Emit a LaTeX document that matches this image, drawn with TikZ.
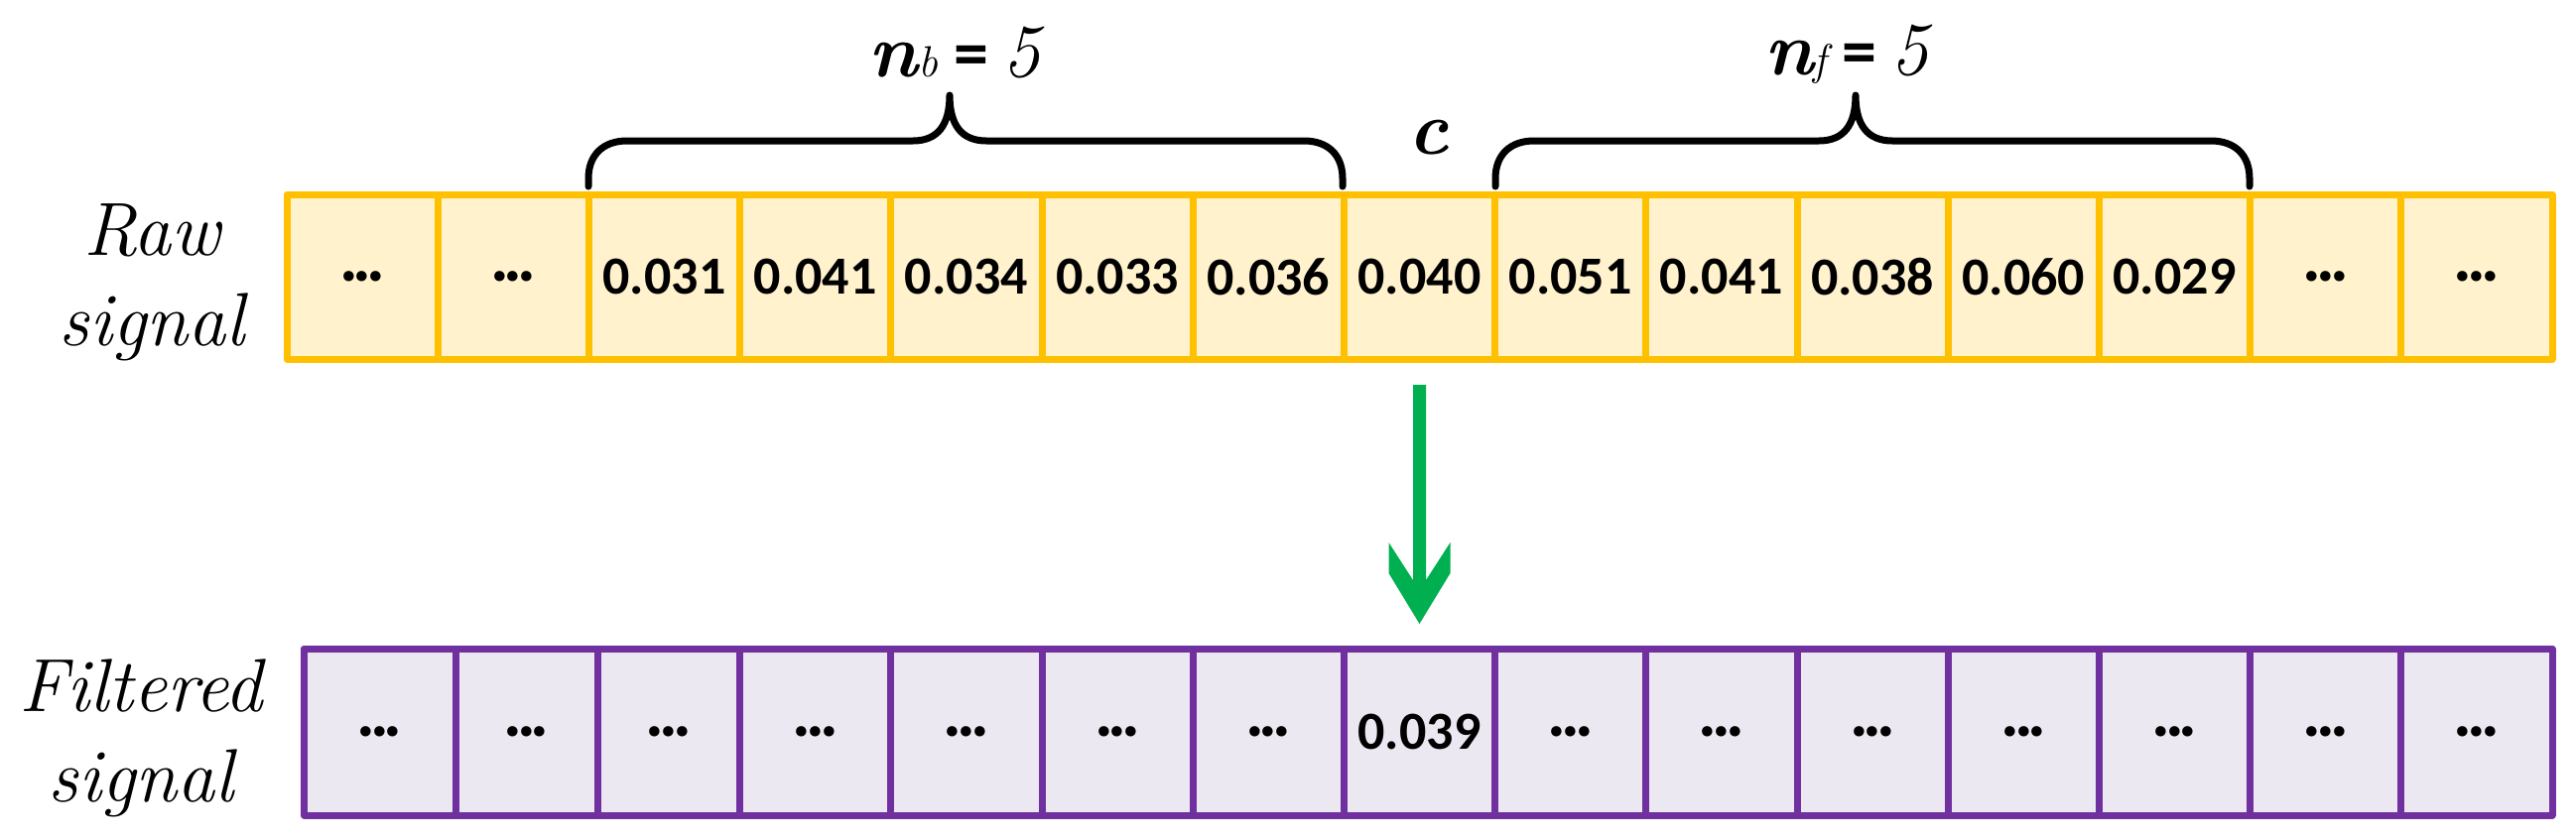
\documentclass[tikz,border=0pt]{standalone}
\usepackage{fontspec}
\newfontfamily\numfont{Carlito}
\usetikzlibrary{calc}
\definecolor{rawborder}{HTML}{FFC000}
\definecolor{rawfill}{HTML}{FFF2CC}
\definecolor{filtborder}{HTML}{7030A0}
\definecolor{filtfill}{HTML}{ECE8F1}
\definecolor{arrowgreen}{HTML}{00B050}
\newcommand\mydots{{\fontsize{70}{70}\selectfont.\kern-5pt.\kern-5pt.}}
\begin{document}
\begin{tikzpicture}[x=1pt,y=-1pt,
  cell/.style={rectangle, inner sep=0pt, outer sep=0pt, line width=7pt, line join=round,
    font=\numfont\bfseries\fontsize{54}{60}\selectfont},
  rawcell/.style={cell, draw=rawborder, fill=rawfill, minimum width=152.2pt, minimum height=166pt},
  filtcell/.style={cell, draw=filtborder, fill=filtfill, minimum height=168pt},
  bracestyle/.style={draw=black, line width=7pt, line cap=round, line join=round},
  rowlabel/.style={align=center, inner sep=0pt, font=\itshape\fontsize{76}{91}\selectfont},
  toplabel/.style={anchor=base, inner sep=0pt, font=\fontsize{76}{80}\selectfont}]
\useasboundingbox (0,0) rectangle (2596,844);

% raw signal row
\foreach \v [count=\i from 0] in {\mydots,\mydots,0.031,0.041,0.034,0.033,0.036,0.040,0.051,0.041,0.038,0.060,0.029,\mydots,\mydots}
  \node[rawcell] (r\i) at ({365.1+152.2*\i},279) {\v};

% filtered signal row
\foreach \cx/\w/\v [count=\i from 0] in {382.5/153/\mydots,530.5/143/\mydots,674/144/\mydots,821.7/152.2/\mydots,973.9/152.2/\mydots,1126.1/152.2/\mydots,1278.3/152.2/\mydots,1430.5/152.2/0.039,1582.7/152.2/\mydots,1734.9/152.2/\mydots,1887.1/152.2/\mydots,2039.3/152.2/\mydots,2191.5/152.2/\mydots,2343.7/152.2/\mydots,2495.9/152.2/\mydots}
  \node[filtcell, minimum width=\w pt] (f\i) at (\cx,738) {\v};

% row labels (base = baseline of the last line)
\node[rowlabel, anchor=base] (rawlabel) at (153,348) {Raw\\signal};
\node[rowlabel, anchor=base] (filtlabel) at (142,808) {Filtered\\signal};

% braces
\draw[bracestyle] (593,188) -- (593,180) .. controls (593,156) and (608,142) .. (632,142)
  -- (920,142) .. controls (945,142) and (957,126) .. (957,96)
  .. controls (957,126) and (969,142) .. (994,142)
  -- (1314,142) .. controls (1338,142) and (1353,156) .. (1353,180) -- (1353,188);
\draw[bracestyle] (1507,188) -- (1507,180) .. controls (1507,156) and (1522,142) .. (1546,142)
  -- (1833,142) .. controls (1858,142) and (1870,126) .. (1870,96)
  .. controls (1870,126) and (1882,142) .. (1907,142)
  -- (2228,142) .. controls (2252,142) and (2267,156) .. (2267,180) -- (2267,188);

% labels above
\node[toplabel] (nb) at (962,77) {{\bfseries\itshape n}{\fontsize{44}{44}\selectfont\itshape b}\hspace{16pt}{\numfont\bfseries\fontsize{70}{70}\selectfont =}\hspace{14pt}{\itshape 5}};
\node[toplabel] (nf) at (1861,75) {{\bfseries\itshape n}{\fontsize{44}{44}\selectfont\itshape f}\hspace{16pt}{\numfont\bfseries\fontsize{70}{70}\selectfont =}\hspace{14pt}{\itshape 5}};
\node[toplabel] (c) at (1440,155) {{\bfseries\itshape c}};

% arrow
\fill[arrowgreen, shift={(r7.south)}] (-6.5,26) -- (6.5,26) -- (6.5,223) -- (31,185) -- (31,216)
  -- (0,267) -- (-31,216) -- (-31,185) -- (-6.5,223) -- cycle;
\end{tikzpicture}
\end{document}
